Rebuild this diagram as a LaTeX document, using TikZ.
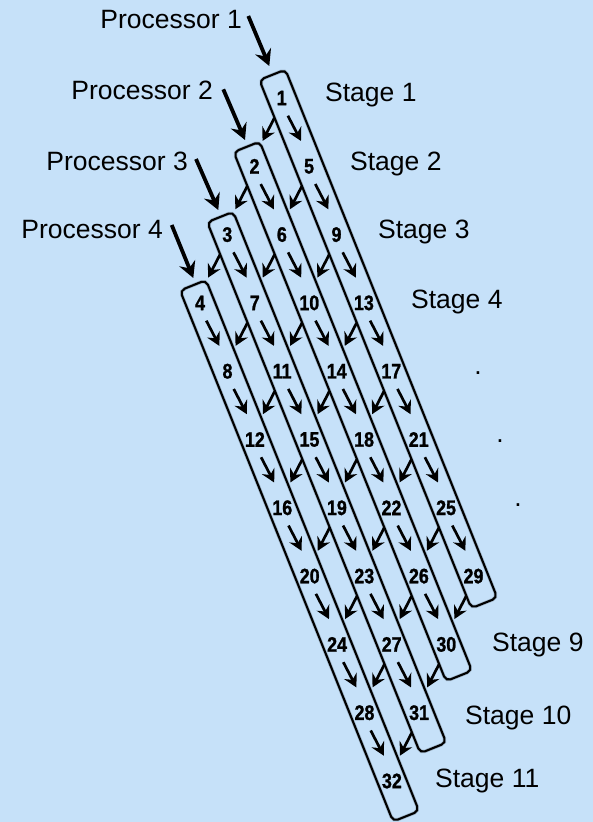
\documentclass[tikz,border=0pt]{standalone}
\usepackage{fontspec}
\setmainfont{Liberation Sans}
\newfontfamily\numfont[FakeStretch=0.85,FakeBold=1.2]{Liberation Sans}
\usetikzlibrary{calc,arrows.meta}
\definecolor{bg}{RGB}{198,225,249}
\tikzset{
  num/.style={font=\numfont\bfseries\fontsize{21}{23}\selectfont, inner sep=0pt},
  lbl/.style={font=\fontsize{26.5}{30}\selectfont, inner sep=0pt},
  stripst/.style={draw=black, line width=2.1pt, rounded corners=5pt},
  stripsh/.style={draw=black, opacity=0.18, line width=3.5pt, rounded corners=5pt},
  arr/.style={line width=2.7pt, -{Stealth[length=13pt,width=14pt,inset=4.5pt]}},
  parr/.style={line width=3.8pt, -{Stealth[length=16pt,width=17pt,inset=5.5pt]}},
}
\begin{document}
\begin{tikzpicture}[x=1pt,y=-1pt]
\fill[bg] (0,0) rectangle (593,822);
\useasboundingbox (0,0) rectangle (593,822);

% numbers
\foreach \k in {1,...,32}{
  \pgfmathtruncatemacro\p{mod(\k-1,4)}
  \pgfmathtruncatemacro\j{(\k-1)/4}
  \pgfmathtruncatemacro\r{\j+\p}
  \pgfmathsetmacro\x{281.7+27.4*\r-54.6*\p}
  \pgfmathsetmacro\y{98+68.3*\r}
  \node[num] (n\k) at (\x,\y) {\k};
}

% strips
\foreach \p/\et/\eb in {1/25/29, 2/21/34, 3/19/38, 4/19/38}{
  \pgfmathtruncatemacro\last{28+\p}
  \coordinate (T\p) at ($(n\p.center)!-\et pt!(n\last.center)$);
  \coordinate (B\p) at ($(n\last.center)!-\eb pt!(n\p.center)$);
  \draw[stripsh, shift={(1.5,1.5)}] ($(T\p)!14pt!90:(B\p)$) -- ($(B\p)!14pt!-90:(T\p)$)
     -- ($(B\p)!14pt!90:(T\p)$) -- ($(T\p)!14pt!-90:(B\p)$) -- cycle;
  \draw[stripst] ($(T\p)!14pt!90:(B\p)$) -- ($(B\p)!14pt!-90:(T\p)$)
     -- ($(B\p)!14pt!90:(T\p)$) -- ($(T\p)!14pt!-90:(B\p)$) -- cycle;
}

% arrows within strips
\foreach \k in {1,...,28}{
  \pgfmathtruncatemacro\kk{\k+4}
  \draw[arr, shorten <=20pt, shorten >=28.5pt] ([xshift=-3pt]n\k.center) -- ([xshift=5pt]n\kk.center);
}
% arrows to next strip
\foreach \k in {1,...,31}{
  \pgfmathtruncatemacro\m{mod(\k,4)}
  \pgfmathtruncatemacro\kk{\k+1}
  \ifnum\m>0
    \draw[arr, shorten <=22.5pt, shorten >=28.5pt] ([xshift=3pt]n\k.center) -- ([xshift=-5pt]n\kk.center);
  \fi
}

% processor labels and arrows
\node[lbl, anchor=base east] (pl1) at (242,28) {Processor 1};
\node[lbl, anchor=base east] (pl2) at (213,99) {Processor 2};
\node[lbl, anchor=base east] (pl3) at (188,170) {Processor 3};
\node[lbl, anchor=base east] (pl4) at (163,238) {Processor 4};
\coordinate (s1) at (248.3,16);  \coordinate (e1) at (269.3,66);
\coordinate (s2) at (223.3,89.3);\coordinate (e2) at (245,140);
\coordinate (s3) at (196,159);   \coordinate (e3) at (218.3,210);
\coordinate (s4) at (171.7,225); \coordinate (e4) at (193.3,278);
\foreach \i in {1,...,4}{ \draw[parr] (s\i) -- (e\i); }

% stage labels
\node[lbl, anchor=base west] (st1) at (325,101) {Stage 1};
\node[lbl, anchor=base west] (st2) at (350,170) {Stage 2};
\node[lbl, anchor=base west] (st3) at (378,238) {Stage 3};
\node[lbl, anchor=base west] (st4) at (411,308) {Stage 4};
\node[lbl, anchor=base] (d1) at (478,374.5) {.};
\node[lbl, anchor=base] (d2) at (500,442.5) {.};
\node[lbl, anchor=base] (d3) at (518,506.5) {.};
\node[lbl, anchor=base west] (st9) at (492,651) {Stage 9};
\node[lbl, anchor=base west] (st10) at (465,724) {Stage 10};
\node[lbl, anchor=base west] (st11) at (435,787) {Stage 11};
\end{tikzpicture}
\end{document}
